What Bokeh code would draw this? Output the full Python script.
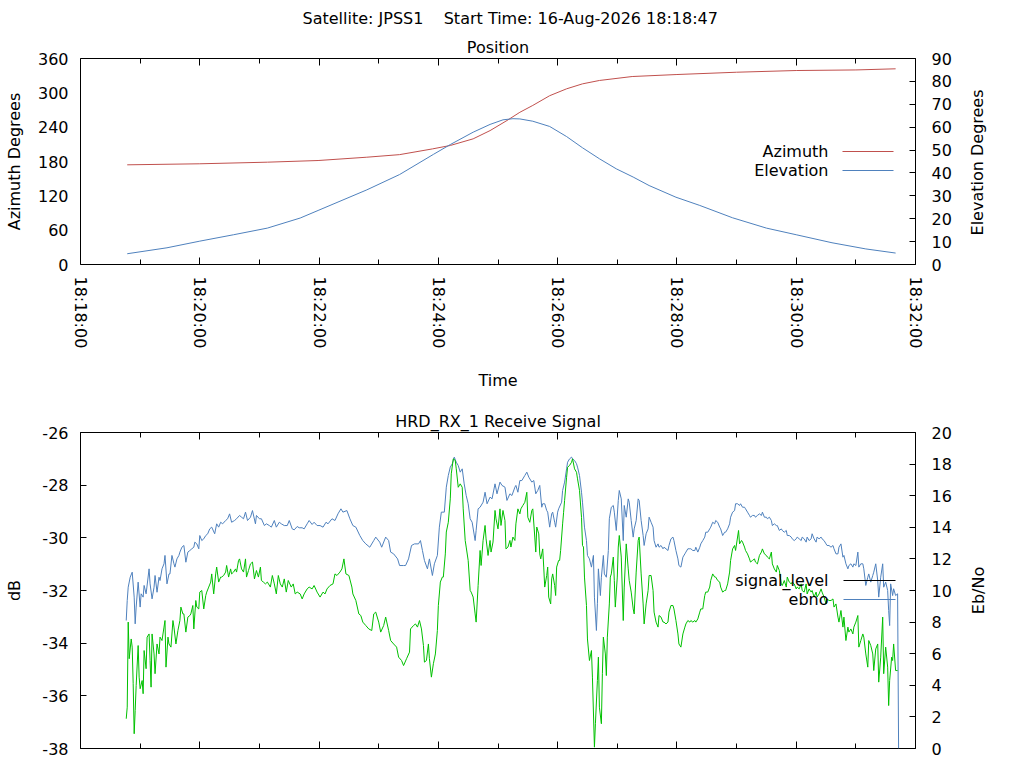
import math
import pandas as pd
from bokeh.plotting import figure
from bokeh.models import (Range1d, LinearAxis, DatetimeAxis, FixedTicker,
                          DatetimeTickFormatter, Title, Label, Arrow)
from bokeh.layouts import column
from bokeh.embed import file_html
from bokeh.resources import INLINE

# ---------------- data (seconds after 18:18:00 on 16-Aug-2026) ----------------
PASS_DAY = "2026-08-16 18:18:00"
SATELLITE = "JPSS1"
START_TIME = "16-Aug-2026 18:18:47"

AZ_T = [47, 120, 188, 239, 288, 321, 354, 372, 395, 412,
        429, 442, 455, 472, 489, 505, 522, 555, 600, 660,
        720, 780, 820]
AZIMUTH = [174.2, 176.0, 178.8, 181.7, 187.5, 192.0, 202.0, 208.0, 219.6, 234.0,
           251.6, 266.0, 278.0, 295.0, 307.0, 315.7, 321.6, 328.5, 332.0, 336.0,
           339.0, 340.0, 342.0]

EL_T = [47, 87, 120, 154, 188, 221, 239, 288, 321, 355,
        372, 395, 412, 425, 435, 442, 455, 472, 489, 505,
        522, 539, 556, 572, 599, 623, 656, 690, 720, 756,
        790, 820]
ELEVATION = [4.7, 7.3, 10.2, 13.0, 15.9, 20.3, 23.6, 32.6, 39.3, 48.1,
             52.4, 57.8, 61.2, 63.2, 63.7, 63.6, 62.6, 60.3, 55.9, 51.0,
             46.2, 41.8, 38.2, 34.5, 29.4, 25.8, 20.4, 15.9, 13.0, 9.5,
             6.8, 5.0]

EBNO_T = [46, 47, 48, 50, 52, 54, 55, 56, 58, 60,
          61, 63, 64, 66, 69, 70, 72, 74, 75, 77,
          79, 80, 82, 84, 85, 87, 89, 90, 92, 94,
          95, 97, 99, 100, 102, 104, 106, 108, 110, 112,
          114, 115, 117, 119, 120, 122, 124, 126, 128, 130,
          132, 135, 137, 139, 141, 143, 146, 148, 150, 152,
          155, 157, 160, 162, 164, 166, 168, 171, 173, 176,
          177, 180, 182, 185, 187, 190, 192, 195, 197, 200,
          202, 205, 208, 210, 213, 215, 218, 220, 223, 225,
          228, 230, 233, 235, 238,
          241, 244, 247, 249, 253, 256, 259, 262, 264, 268,
          271, 274, 277, 281, 284, 287, 291, 295, 297, 301,
          303, 307, 310, 312, 315, 319, 321, 325, 327, 330,
          333, 336, 340, 342, 344, 346, 349, 351, 354, 356,
          359, 361, 363, 366, 368, 370, 372, 374, 376, 378,
          380, 382, 384, 386, 388, 390, 392, 394, 397, 398,
          400, 402, 405, 407, 409, 412, 414, 417, 419, 422,
          424, 427, 429, 432, 434, 437, 438, 440,
          442, 444, 447, 449, 451, 454, 456, 458, 460, 462,
          464, 465, 467, 469, 470, 472, 474, 475, 477, 478,
          480, 481, 484, 485, 487, 489, 490, 492, 494, 495,
          497, 499, 500, 502, 504, 505, 507, 509, 510, 512,
          514, 516, 517, 519, 520, 521, 523, 524, 526, 527,
          529, 531, 532, 534, 536, 537, 539, 541, 542, 544,
          546, 547, 549, 551, 552, 554, 556, 557, 559, 561,
          562, 564, 566, 567, 569, 571, 572, 574, 576, 577,
          579, 581, 582, 584, 586, 587, 589, 591, 592, 594,
          596, 597, 599, 601, 602, 604, 606, 608, 609, 611,
          613, 614, 616, 618, 619, 621, 623, 624, 626, 628,
          629, 631, 633, 634, 636, 638, 639, 641,
          643, 644, 646, 648, 649, 651, 653, 654, 656, 658,
          659, 661, 663, 664, 666, 668, 669, 671, 673, 674,
          676, 678, 679, 681, 683, 685, 686, 688, 690, 691,
          693, 695, 696, 698, 700, 701, 703, 705, 706, 708,
          710, 711, 713, 715, 716, 718, 720, 721, 723, 725,
          726, 728, 730, 731, 733, 735, 736, 738, 740, 741,
          743, 745, 746, 748, 750, 751, 753, 755, 757, 758,
          760, 762, 763, 765, 767, 768, 770, 772, 773, 775,
          777, 778, 780, 782, 783, 785, 787, 788, 790, 792,
          793, 795, 797, 798, 800, 802, 803, 805, 807, 808,
          810, 812, 813, 814, 815, 817, 818, 820, 822, 823]
EBNO = [8.10, 9.37, 10.21, 10.84, 11.16, 9.58, 7.89, 8.95, 10.53, 8.95,
        9.79, 9.58, 10.32, 9.79, 11.37, 10.42, 9.47, 10.21, 10.95, 9.89,
        10.84, 10.63, 11.37, 11.69, 12.22, 10.42, 11.05, 11.05, 12.22, 11.69,
        11.48, 12.00, 12.22, 12.43, 12.74, 12.85, 11.79, 12.43, 12.53, 12.64,
        12.74, 13.06, 12.95, 12.64, 13.48, 13.16, 13.27, 13.48, 13.59, 13.90,
        14.01, 13.59, 14.22, 14.01, 14.32, 14.22, 14.43, 14.54, 14.85, 14.32,
        14.43, 14.54, 14.75, 14.64, 14.54, 14.96, 14.43, 14.64, 15.06, 14.22,
        14.75, 14.54, 14.54, 14.11, 14.22, 14.11, 14.01, 14.43, 14.01, 14.32,
        14.22, 14.11, 14.11, 14.43, 13.90, 13.84, 14.05, 13.97, 13.97, 13.90,
        14.22, 14.43, 14.18, 14.32, 14.11,
        14.11, 14.01, 14.32, 14.22, 14.54, 14.43, 14.85, 15.17, 14.96, 15.06,
        14.54, 14.11, 14.01, 13.48, 13.16, 12.95, 12.74, 13.16, 13.38, 13.06,
        12.74, 13.38, 13.16, 12.43, 12.32, 12.00, 11.58, 11.58, 11.58, 12.00,
        12.85, 12.95, 12.95, 13.16, 12.53, 11.90, 11.37, 12.00, 10.95, 11.69,
        12.22, 14.01, 14.96, 14.96, 16.54, 17.28, 17.81, 18.02, 18.44, 18.12,
        17.91, 17.49, 17.70, 16.75, 16.01, 15.49, 14.54, 14.32, 13.16, 13.80,
        15.17, 15.27, 15.59, 16.22, 15.49, 15.91, 15.80, 16.75, 16.12, 16.86,
        16.65, 16.54, 15.70, 16.12, 16.01, 16.54, 16.65, 16.22,
        16.96, 16.96, 17.28, 17.49, 17.17, 16.86, 16.96, 16.12, 16.33, 16.65,
        15.27, 15.49, 15.49, 15.06, 14.96, 14.01, 14.85, 14.96, 14.32, 14.01,
        14.96, 15.17, 15.59, 16.33, 16.86, 17.70, 18.12, 18.33, 18.44, 18.33,
        18.23, 18.02, 17.81, 17.28, 16.22, 15.59, 14.01, 13.16, 12.22, 12.00,
        11.48, 12.22, 9.58, 7.47, 9.16, 11.37, 9.68, 10.84, 12.22, 11.05,
        10.84, 12.53, 14.54, 15.27, 15.38, 14.96, 13.80, 15.70, 16.33, 15.80,
        13.16, 15.38, 14.64, 15.80, 15.59, 14.43, 13.38, 13.90, 14.43, 15.80,
        15.70, 14.43, 13.48, 12.85, 13.59, 13.90, 14.64, 14.32, 14.01, 13.16,
        12.74, 12.95, 12.74, 12.85, 12.64, 12.74, 12.64, 12.53, 12.85, 13.27,
        13.38, 13.16, 12.53, 12.00, 11.58, 11.48, 12.11, 12.32, 12.43, 12.64,
        12.64, 12.64, 12.53, 12.53, 12.74, 12.43, 12.74, 12.95, 13.16, 13.38,
        13.69, 13.69, 13.90, 14.01, 14.32, 14.22, 14.43, 14.32,
        14.01, 13.90, 13.48, 13.69, 13.69, 13.90, 14.22, 14.64, 14.96, 15.06,
        15.49, 15.49, 15.38, 15.49, 15.27, 15.27, 15.17, 14.96, 14.75, 14.64,
        14.75, 14.75, 14.64, 14.75, 14.85, 14.75, 14.96, 14.64, 14.64, 14.54,
        14.64, 14.43, 14.11, 14.22, 14.11, 14.11, 13.80, 13.90, 13.80, 13.69,
        13.80, 13.48, 13.48, 13.38, 13.27, 13.16, 13.27, 13.38, 13.27, 13.16,
        13.38, 13.27, 13.06, 13.38, 13.16, 13.27, 13.59, 13.27, 13.06, 13.38,
        13.27, 13.38, 13.27, 13.16, 12.95, 12.85, 12.85, 12.74, 12.85, 12.64,
        12.32, 12.32, 12.74, 12.95, 12.11, 12.22, 11.69, 11.37, 11.58, 11.69,
        11.48, 11.69, 11.58, 12.43, 11.48, 11.69, 11.69, 11.37, 10.32, 10.84,
        11.05, 10.53, 10.95, 11.16, 11.69, 10.63, 9.58, 10.84, 11.69, 10.21,
        10.53, 10.00, 8.73, 7.78, 10.42, 9.68, 10.11, 9.68, 9.79, 0.0]

SIG_T = [46, 47, 48, 49, 51, 52, 53, 54, 55, 56,
         58, 59, 60, 62, 63, 64, 66, 67, 69, 70,
         71, 72, 74, 75, 77, 79, 80, 82, 84, 85,
         86, 88, 89, 91, 93, 94, 96, 98, 100, 101,
         103, 104, 106, 108, 110, 111, 113, 114, 116, 117,
         119, 120, 122, 124, 126, 127, 129, 131, 132, 134,
         136, 137, 139, 141, 142, 144, 146, 147, 149, 151,
         152, 154, 156, 157, 159, 160, 162, 164, 166, 167,
         169, 171, 173, 175, 177, 179, 181, 182, 184, 186,
         188, 191, 193, 195, 197, 199, 201, 203, 205, 207,
         209, 212, 214, 216, 218, 221, 223, 225, 228, 230,
         233, 235, 238,
         241, 244, 246, 248, 251, 254, 256, 258, 261, 263,
         265, 267, 270, 273, 274, 277, 280, 282, 284, 287,
         290, 293, 295, 297, 300, 302, 305, 307, 310, 312,
         315, 318, 320, 323, 325, 328, 331, 332, 335, 337,
         339, 341, 343, 345, 346, 348, 350, 351, 353, 355,
         357, 359, 360, 362, 364, 365, 367, 368, 370, 372,
         373, 375, 377, 378, 380, 382, 384, 385, 387, 388,
         390, 392, 393, 395, 397, 398, 400, 402, 403, 405,
         407, 408, 410, 412, 413, 415, 417, 418, 420, 422,
         423, 425, 427, 428, 430, 432, 433, 435, 437, 438,
         440,
         442, 443, 445, 447, 449, 450, 452, 454, 455, 457,
         458, 459, 461, 462, 463, 465, 466, 467, 469, 470,
         471, 473, 474, 475, 477, 478, 479, 481, 482, 483,
         485, 486, 487, 489, 490, 492, 494, 495, 497, 499,
         500, 502, 504, 505, 506, 507, 509, 510, 512, 514,
         515, 517, 518, 520, 521, 522, 524, 525, 526, 528,
         529, 530, 532, 533, 534, 536, 537, 538, 540, 541,
         542, 544, 546, 547, 549, 551, 552, 554, 556, 557,
         559, 561, 562, 564, 566, 567, 569, 571, 572, 574,
         576, 577, 579, 581, 582, 584, 586, 587, 589, 591,
         592, 594, 596, 597, 599, 601, 602, 604, 606, 608,
         609, 611, 613, 614, 616, 618, 619, 621, 623, 624,
         626, 628, 629, 631, 633, 634, 636, 638, 639, 641,
         643, 644, 646, 648, 649, 651, 653, 654, 656, 658,
         659, 661, 662, 663, 665, 666, 668, 669, 671, 673,
         674, 676, 678, 679, 681, 683, 685, 686, 688, 690,
         691, 693, 695, 696, 698, 700, 701, 703, 705, 706,
         708, 710, 711, 713, 715, 716, 718, 720, 721, 723,
         725, 726, 728, 730, 731, 733, 735, 736, 738, 740,
         741, 743, 745, 746, 748, 750, 751, 753, 755, 757,
         758, 760, 762, 763, 765, 767, 768, 770, 772, 773,
         775, 777, 778, 780, 782, 783, 785, 787, 788, 790,
         792, 793, 795, 797, 798, 800, 802, 803, 805, 807,
         808, 810, 812, 813, 814, 816, 817, 818, 820, 822]
SIGNAL = [-36.87, -36.43, -33.20, -34.59, -33.84, -34.15, -35.54, -37.44, -36.56, -35.61,
          -34.09, -35.29, -35.73, -35.42, -35.92, -34.28, -34.97, -33.77, -33.65, -34.66,
          -35.67, -33.65, -34.41, -35.16, -34.03, -34.41, -33.77, -33.90, -33.39, -33.14,
          -34.91, -33.77, -34.03, -34.15, -33.14, -33.39, -34.03, -33.52, -33.14, -32.63,
          -32.89, -32.89, -33.58, -33.01, -32.95, -32.89, -32.57, -33.46, -32.38, -32.63,
          -32.70, -32.06, -32.00, -32.70, -32.19, -32.06, -31.87, -31.68, -31.37, -32.13,
          -31.37, -31.11, -31.68, -31.49, -31.49, -31.43, -31.30, -31.05, -31.49, -31.18,
          -31.37, -31.30, -31.18, -31.30, -30.86, -30.80, -31.18, -31.30, -30.80, -31.49,
          -31.24, -30.99, -30.92, -31.56, -31.24, -31.49, -31.11, -31.62, -31.68, -31.75,
          -31.68, -31.87, -31.43, -31.75, -32.13, -31.43, -31.75, -31.87, -31.56, -32.06,
          -31.62, -31.87, -31.75, -32.13, -32.06, -32.13, -32.32, -32.13, -31.94, -31.87,
          -31.94, -31.81, -32.06,
          -32.25, -32.06, -32.13, -31.94, -31.81, -31.75, -31.37, -31.43, -31.30, -31.18,
          -30.80, -31.37, -31.43, -31.87, -32.13, -32.38, -32.89, -32.95, -33.20, -33.33,
          -33.46, -33.52, -32.89, -32.82, -33.20, -33.58, -33.33, -33.01, -33.52, -33.90,
          -34.03, -34.15, -34.53, -34.66, -34.85, -34.59, -34.34, -33.46, -33.33, -33.27,
          -33.39, -33.14, -33.46, -34.09, -34.72, -34.66, -34.03, -34.59, -35.29, -34.78,
          -34.41, -33.52, -32.57, -31.68, -31.49, -31.49, -30.61, -29.78, -29.41, -28.52,
          -27.57, -27.00, -27.06, -27.38, -28.08, -27.95, -28.08, -28.90, -30.10, -30.35,
          -30.86, -32.00, -32.06, -32.25, -32.89, -33.20, -31.81, -30.48, -31.05, -30.10,
          -29.53, -30.04, -30.67, -30.10, -30.54, -30.16, -28.96, -29.28, -29.66, -28.90,
          -29.53, -28.96, -29.34, -30.42, -30.35, -30.10, -30.35, -29.97, -30.10, -29.47,
          -28.90,
          -29.09, -28.90, -28.77, -28.65, -28.27, -29.22, -29.41, -28.96, -28.90, -29.97,
          -30.54, -29.59, -29.85, -30.61, -30.80, -30.42, -31.11, -31.87, -31.43, -31.11,
          -32.25, -32.51, -31.56, -31.37, -31.81, -32.19, -31.11, -30.86, -30.86, -30.48,
          -29.47, -29.03, -28.58, -27.70, -27.32, -27.25, -27.13, -27.00, -27.38, -27.51,
          -27.76, -28.20, -29.22, -30.29, -30.35, -31.49, -32.57, -33.84, -34.66, -34.28,
          -35.29, -37.95, -37.06, -35.42, -34.53, -36.43, -37.06, -35.16, -33.77, -34.41,
          -35.23, -33.77, -32.51, -31.49, -31.37, -30.73, -31.62, -32.63, -31.49, -30.35,
          -29.91, -30.73, -33.14, -31.87, -30.23, -31.18, -31.62, -32.06, -32.70, -32.89,
          -31.30, -30.10, -29.97, -31.37, -32.51, -33.27, -32.51, -32.00, -31.43, -31.43,
          -32.00, -32.82, -33.20, -33.39, -32.95, -33.01, -33.20, -33.20, -33.27, -33.20,
          -32.82, -32.57, -32.57, -32.70, -33.14, -33.65, -34.03, -34.15, -33.65, -33.39,
          -33.27, -33.14, -33.20, -33.14, -33.20, -33.14, -33.20, -33.08, -32.82, -32.70,
          -32.70, -32.19, -32.06, -32.06, -31.87, -31.62, -31.37, -31.49, -31.49, -31.62,
          -31.68, -31.87, -32.06, -32.00, -32.00, -31.75, -31.30, -30.86, -30.42, -30.29,
          -30.48, -29.97, -29.72, -30.23, -30.10, -30.16, -30.35, -30.48, -30.61, -30.80,
          -30.92, -30.86, -30.80, -30.92, -30.99, -30.67, -30.54, -30.42, -30.61, -30.67,
          -30.73, -30.80, -30.54, -30.99, -31.18, -31.30, -31.05, -31.24, -31.75, -31.81,
          -31.62, -31.87, -31.49, -31.68, -31.75, -31.68, -31.75, -31.94, -31.87, -31.94,
          -31.75, -32.00, -32.06, -31.75, -32.13, -31.94, -32.06, -32.00, -32.25, -32.06,
          -32.25, -32.13, -31.94, -32.06, -32.25, -32.51, -32.32, -32.38, -32.38, -32.32,
          -32.63, -32.51, -33.01, -33.20, -32.76, -33.39, -33.01, -33.90, -33.39, -33.58,
          -33.46, -33.65, -33.39, -33.20, -32.95, -34.15, -33.90, -33.65, -33.77, -34.41,
          -34.91, -33.90, -34.09, -34.41, -35.04, -34.22, -34.03, -35.48, -34.53, -33.01,
          -35.16, -34.15, -34.91, -36.37, -35.42, -34.53, -34.66, -34.03, -35.04, -35.04]

X_TICK_MINUTES = [0, 2, 4, 6, 8, 10, 12, 14]
X_MINOR_MINUTES = [1, 3, 5, 7, 9, 11, 13]
AZ_TICKS = [0, 60, 120, 180, 240, 300, 360]
EL_TICKS = [0, 10, 20, 30, 40, 50, 60, 70, 80, 90]
DB_TICKS = [-38, -36, -34, -32, -30, -28, -26]
EBNO_TICKS = [0, 2, 4, 6, 8, 10, 12, 14, 16, 18, 20]

# ---------------- helpers ----------------
FONT = "DejaVu Sans"
FS = "16px"
BASE = pd.Timestamp(PASS_DAY)
RED, BLUE, GREEN = "#c0504d", "#4f81bd", "#00c000"
NB = "\u00a0"


def times(secs):
    return BASE + pd.to_timedelta(secs, unit="s")


def ms(minutes):
    return [(BASE + pd.Timedelta(minutes=m)).value / 1e6 for m in minutes]


x_ticker = FixedTicker(ticks=ms(X_TICK_MINUTES), minor_ticks=ms(X_MINOR_MINUTES))
fmt = "%H:%M:%S"
x_fmt = DatetimeTickFormatter(seconds=fmt, minsec=fmt, minutes=fmt, hourmin=fmt,
                              hours=fmt, milliseconds=fmt, microseconds=fmt)
x_range = Range1d(BASE, BASE + pd.Timedelta(minutes=14))


def style(ax, tick_in=6, standoff=12, labels=True):
    ax.axis_line_color = None
    ax.major_tick_in = tick_in
    ax.major_tick_out = 0
    ax.minor_tick_in = 0
    ax.minor_tick_out = 0
    ax.major_tick_line_color = "black" if tick_in else None
    ax.major_label_text_font = FONT
    ax.major_label_text_font_size = FS
    ax.major_label_text_color = "black" if labels else None
    ax.major_label_standoff = standoff
    ax.axis_label_text_font = FONT
    ax.axis_label_text_font_size = FS
    ax.axis_label_text_font_style = "normal"
    ax.axis_label_text_color = "black"


def right_title(p, range_name, start, text, standoff):
    # right-hand axis title, read from bottom to top; `start` is where its first letter sits
    ax = LinearAxis(y_range_name=range_name)
    style(ax, tick_in=0, standoff=standoff)
    ax.ticker = FixedTicker(ticks=[start])
    ax.major_label_overrides = {start: text}
    ax.major_label_orientation = math.pi / 2
    p.add_layout(ax, "right")


def style_x(ax, labels):
    style(ax, tick_in=7, standoff=12, labels=labels)
    ax.ticker = x_ticker
    ax.formatter = x_fmt
    ax.minor_tick_in = 5
    ax.minor_tick_line_color = "black"


def base_fig(height, y_range, border_top, border_bottom):
    p = figure(width=1024, height=height, x_axis_type="datetime", x_range=x_range,
               y_range=y_range, output_backend="svg", toolbar_location=None,
               min_border_left=80, min_border_right=109,
               min_border_top=border_top, min_border_bottom=border_bottom)
    p.xgrid.visible = False
    p.ygrid.visible = False
    p.outline_line_color = "black"
    p.outline_line_width = 1
    p.outline_line_alpha = 1
    p.background_fill_color = "white"
    p.border_fill_color = "white"
    return p


def add_title(p, text, standoff, align="center", offset=0):
    p.add_layout(Title(text=text, align=align, offset=offset, standoff=standoff,
                       text_font=FONT, text_font_size=FS, text_font_style="normal",
                       text_color="black"), "above")


def key(p, text, y, color, x0, x1):
    # legend row (text on the left of its line, as in the reference); pixels from frame corner
    p.add_layout(Label(x=748, y=y, x_units="screen", y_units="screen", text=text,
                       text_align="right", text_baseline="middle", text_font=FONT,
                       text_font_size=FS, text_color="black"))
    p.add_layout(Arrow(end=None, x_start=x0, y_start=y, x_end=x1, y_end=y,
                       start_units="screen", end_units="screen",
                       line_color=color, line_width=1))


# ---------------- top: position ----------------
top = base_fig(400, Range1d(0, 360), 58, 136)
top.extra_y_ranges = {"elev": Range1d(0, 90)}

xb = top.xaxis[0]
style_x(xb, True)
xb.major_label_orientation = -math.pi / 2
xb.axis_label = "Time"
xb.axis_label_standoff = 20
xa = DatetimeAxis()
style_x(xa, False)
top.add_layout(xa, "above")

yl = top.yaxis[0]
style(yl, tick_in=0, standoff=12)
yl.ticker = FixedTicker(ticks=AZ_TICKS)
yl.axis_label = "Azimuth Degrees"
yl.axis_label_standoff = 11

yr = LinearAxis(y_range_name="elev")
style(yr, tick_in=6, standoff=16)
yr.ticker = FixedTicker(ticks=EL_TICKS)
top.add_layout(yr, "right")
right_title(top, "elev", 12.7, "Elevation Degrees", 23)

add_title(top, "Position", 4)
add_title(top, f"Satellite: {SATELLITE}{NB}{NB}{NB} Start Time: {START_TIME}", 11,
          align="left", offset=222)

top.line(times(AZ_T), AZIMUTH, line_color=RED, line_width=1)
top.line(times(EL_T), ELEVATION, line_color=BLUE, line_width=1, y_range_name="elev")
key(top, "Azimuth", 113, RED, 762, 813)
key(top, "Elevation", 94, BLUE, 762, 813)

# ---------------- bottom: receive signal ----------------
bot = base_fig(368, Range1d(-38, -26), 32, 20)
bot.extra_y_ranges = {"ebno": Range1d(0, 20)}

bx = bot.xaxis[0]
style_x(bx, False)
bxa = DatetimeAxis()
style_x(bxa, False)
bot.add_layout(bxa, "above")

bl = bot.yaxis[0]
style(bl, tick_in=6, standoff=12)
bl.ticker = FixedTicker(ticks=DB_TICKS)
bl.major_label_overrides = {v: str(v) for v in DB_TICKS}
bl.axis_label = "dB"
bl.axis_label_standoff = 15

br = LinearAxis(y_range_name="ebno")
style(br, tick_in=6, standoff=16)
br.ticker = FixedTicker(ticks=EBNO_TICKS)
bot.add_layout(br, "right")
right_title(bot, "ebno", 8.5, "Eb/No", 24)

add_title(bot, "HRD_RX_1 Receive Signal", 3)

bot.line(times(EBNO_T), EBNO, line_color=BLUE, line_width=1, y_range_name="ebno")
bot.line(times(SIG_T), SIGNAL, line_color=GREEN, line_width=1)
key(bot, "signal_level", 168, "black", 763, 815)
key(bot, "ebno", 149, BLUE, 763, 815)

layout = column(top, bot)
open("out.html", "w").write(file_html(layout, INLINE))
